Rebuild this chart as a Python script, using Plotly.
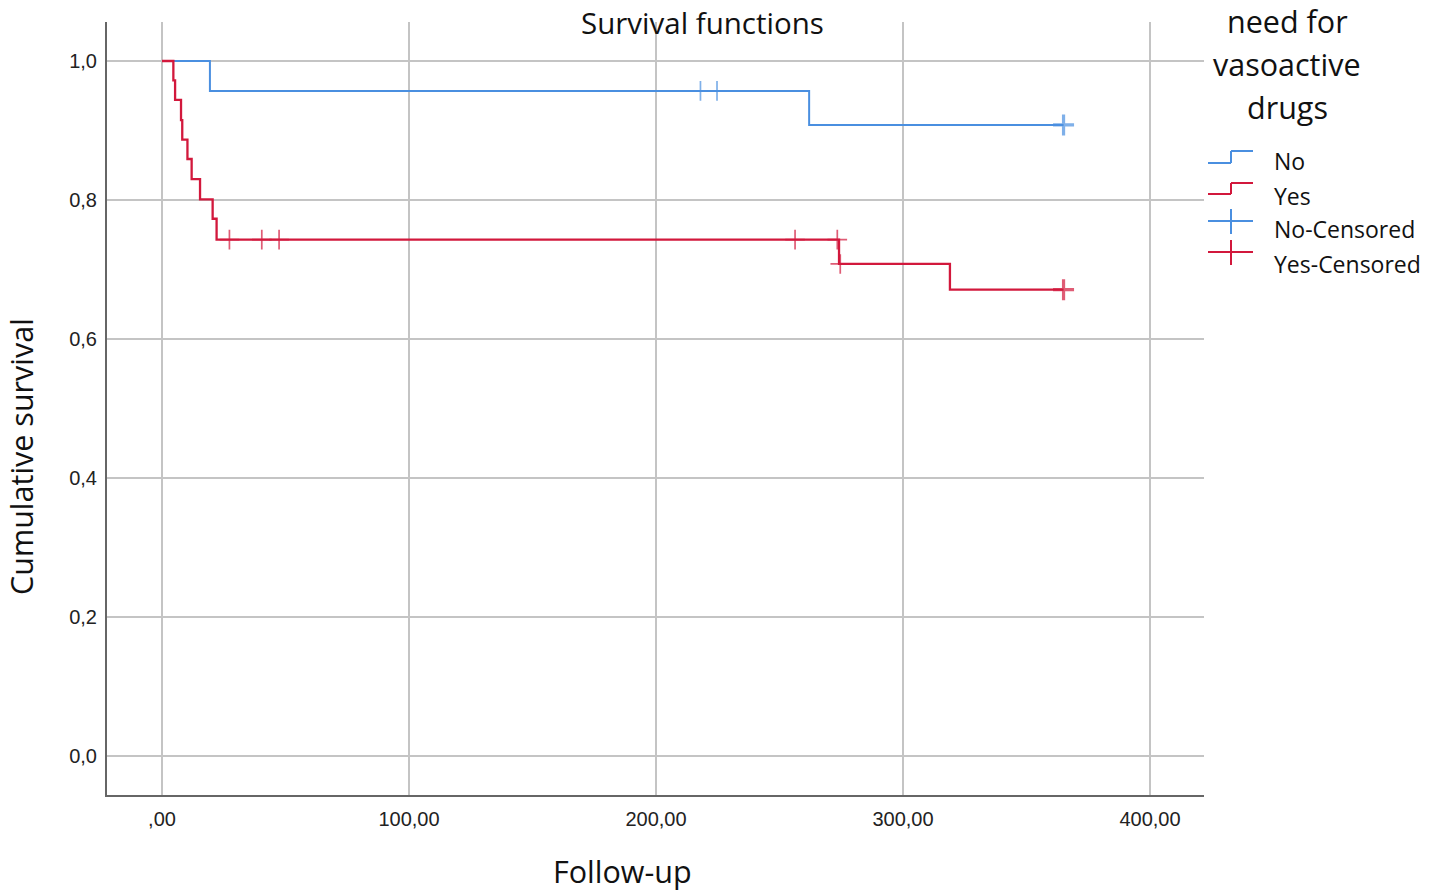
import plotly.graph_objects as go

# ---- data ----
no_time = [0, 19.4, 262.0, 365.0]
no_surv = [1.0, 0.957, 0.908, 0.908]
no_cens_time = [218.0, 224.7, 365.0]
no_cens_surv = [0.957, 0.957, 0.908]

yes_time = [0, 4.6, 5.3, 7.7, 8.2, 10.3, 12.0, 15.4, 20.5, 22.1, 274.1, 319.0, 365.0]
yes_surv = [1.0, 0.972, 0.944, 0.915, 0.887, 0.859, 0.830, 0.801, 0.773, 0.743, 0.708, 0.671, 0.671]
yes_cens_time = [27.3, 40.4, 47.4, 256.3, 273.4, 274.6, 365.0]
yes_cens_surv = [0.743, 0.743, 0.743, 0.743, 0.743, 0.708, 0.671]

x_tickvals = [0, 100, 200, 300, 400]
x_ticktext = [",00", "100,00", "200,00", "300,00", "400,00"]
y_tickvals = [0.0, 0.2, 0.4, 0.6, 0.8, 1.0]
y_ticktext = ["0,0", "0,2", "0,4", "0,6", "0,8", "1,0"]

legend_title = ["need for", "vasoactive", "drugs"]
legend_labels = ["No", "Yes", "No-Censored", "Yes-Censored"]

BLUE = "#4a8fe0"
RED = "#d2183c"
GRID = "#c4c4c4"
AXIS = "#666666"
W, H = 1429, 892
# plot area in page pixels
L, R, T, B = 107, 1204, 22, 795

fig = go.Figure()
fig.add_trace(go.Scatter(x=no_time, y=no_surv, mode="lines", line=dict(color=BLUE, width=2, shape="hv"),
                         showlegend=False, hoverinfo="skip"))
fig.add_trace(go.Scatter(x=yes_time, y=yes_surv, mode="lines", line=dict(color=RED, width=2.3, shape="hv"),
                         showlegend=False, hoverinfo="skip"))

def cens_style(times, color):
    last = max(times)
    widths = [3.2 if t == last else 1.7 for t in times]
    sizes = [15 if t == last else 14 for t in times]
    return dict(symbol="cross-thin", size=sizes, line=dict(color=color, width=widths), color=color)

fig.add_trace(go.Scatter(x=no_cens_time, y=no_cens_surv, mode="markers", marker=cens_style(no_cens_time, BLUE),
                         showlegend=False, hoverinfo="skip"))
fig.add_trace(go.Scatter(x=yes_cens_time, y=yes_cens_surv, mode="markers", marker=cens_style(yes_cens_time, RED),
                         showlegend=False, hoverinfo="skip"))

# x: 0 -> 162px, 400 -> 1150px ; y: 1.0 -> 61px, 0.0 -> 756px (page pixels)
xpx = (1150 - 162) / 400.0
ypx = (756 - 61) / 1.0
x0 = (L - 162) / xpx
x1 = (R - 162) / xpx
y0 = (756 - B) / ypx
y1 = (756 - T) / ypx

TICKF = dict(family="Liberation Sans, Arial", size=20, color="#222")
fig.update_xaxes(range=[x0, x1], tickvals=x_tickvals, ticktext=x_ticktext, showgrid=True, gridcolor=GRID,
                 gridwidth=2, zeroline=False, showline=True, linecolor=AXIS, linewidth=2, ticks="",
                 ticklabelstandoff=5, tickfont=TICKF, fixedrange=True)
fig.update_yaxes(range=[y0, y1], tickvals=y_tickvals, ticktext=y_ticktext, showgrid=True, gridcolor=GRID,
                 gridwidth=2, zeroline=False, showline=True, linecolor=AXIS, linewidth=2, ticks="",
                 ticklabelstandoff=4, tickfont=TICKF, fixedrange=True)

def px2paper(px, py):
    return (px - L) / (R - L), (B - py) / (B - T)

TF = "Open Sans, Noto Sans, sans-serif"
anns = []
def ann(text, px, py, size, xanchor="center", angle=0):
    xp, yp = px2paper(px, py)
    anns.append(dict(text=text, x=xp, y=yp, xref="paper", yref="paper", xanchor=xanchor, yanchor="middle",
                     showarrow=False, textangle=angle, font=dict(family=TF, size=size, color="#111")))

ann("Survival functions", 702, 22, 29.5)
ann("Cumulative survival", 21, 457, 30.5, angle=-90)
ann("Follow-up", 622, 871, 30.5)
for i, t in enumerate(legend_title):
    ann(t, 1287, 21 + 43 * i, 30.5)
label_y = [161, 196, 229, 264]
for lab, yy in zip(legend_labels, label_y):
    ann(lab, 1272, yy, 23, xanchor="left")

shapes = []
def seg(xa, ya, xb, yb, color, width):
    pa = px2paper(xa, ya)
    pb = px2paper(xb, yb)
    shapes.append(dict(type="line", xref="paper", yref="paper", x0=pa[0], y0=pa[1], x1=pb[0], y1=pb[1],
                       line=dict(color=color, width=width)))

# legend glyphs
for color, ylo, yhi in [(BLUE, 163, 151), (RED, 194, 183)]:
    seg(1208, ylo, 1231, ylo, color, 2)
    seg(1231, ylo, 1231, yhi, color, 2)
    seg(1231, yhi, 1253, yhi, color, 2)
for color, yc in [(BLUE, 221), (RED, 252)]:
    seg(1208, yc, 1253, yc, color, 2)
    seg(1231, yc - 12, 1231, yc + 13, color, 2)

fig.update_layout(width=W, height=H,
                  margin=dict(l=L, r=W - R, t=T, b=H - B, pad=0),
                  plot_bgcolor="white", paper_bgcolor="white", annotations=anns, shapes=shapes,
                  showlegend=False)
fig.write_html("out.html", config={"displayModeBar": False},
               post_script="document.body.style.margin='0';document.body.style.overflow='hidden';")
